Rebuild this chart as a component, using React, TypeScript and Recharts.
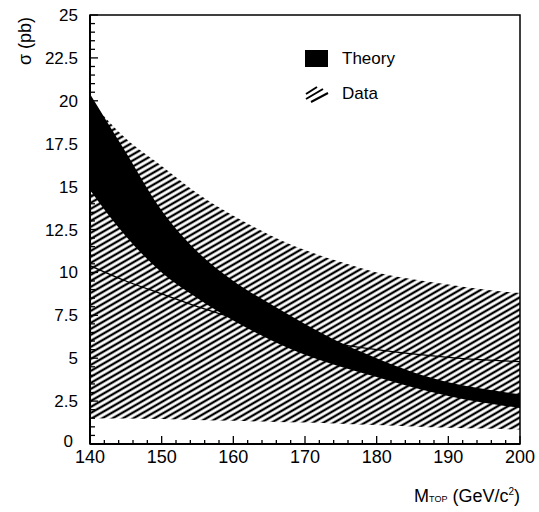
import {
  ComposedChart,
  Area,
  Line,
  XAxis,
  YAxis,
  ReferenceArea,
  Legend,
  Label,
} from "recharts";

// top mass (GeV/c^2)
const mass = [140, 145, 150, 155, 160, 165, 170, 175, 180, 185, 190, 195, 200];

// theory band (black)
const theoryLow = [14.8, 12.1, 10.0, 8.5, 7.2, 6.1, 5.2, 4.5, 3.9, 3.3, 2.8, 2.4, 2.1];
const theoryHigh = [20.4, 17.0, 13.6, 11.2, 9.5, 8.2, 7.0, 5.9, 5.0, 4.2, 3.6, 3.2, 2.9];

// data band (hatched)
const dataLow = [1.5, 1.48, 1.45, 1.4, 1.35, 1.3, 1.25, 1.18, 1.1, 1.02, 0.95, 0.9, 0.85];
const dataHigh = [20.0, 17.8, 16.2, 14.6, 13.3, 12.2, 11.3, 10.6, 10.0, 9.6, 9.3, 9.0, 8.8];

// thin curve
const fit = [10.4, 9.5, 8.75, 8.0, 7.35, 6.8, 6.3, 5.8, 5.5, 5.25, 5.05, 4.9, 4.8];

const xMajor = [140, 150, 160, 170, 180, 190, 200];
const yMajor = [0, 2.5, 5, 7.5, 10, 12.5, 15, 17.5, 20, 22.5, 25];

const legendItems = [
  { name: "Theory", kind: "solid" },
  { name: "Data", kind: "hatch" },
];

const rows = mass.map((m, i) => ({
  mass: m,
  theory: [theoryLow[i], theoryHigh[i]],
  data: [dataLow[i], dataHigh[i]],
  fit: fit[i],
}));

const xTicks: number[] = [];
for (let v = 140; v <= 200; v += 2) xTicks.push(v);
const yTicks: number[] = [];
for (let v = 0; v <= 25; v += 0.5) yTicks.push(v);

const FONT = "'Liberation Sans', Arial, sans-serif";

function XTick(props: any) {
  const { x, y, payload } = props;
  const major = xMajor.includes(payload.value);
  return (
    <g>
      <line x1={x} x2={x} y1={y} y2={y - (major ? 8 : 4)} stroke="#000" strokeWidth={1.3} />
      {major && (
        <text x={x} y={y + 19} textAnchor="middle" fontSize={18} fontFamily={FONT} fill="#000">
          {payload.value}
        </text>
      )}
    </g>
  );
}

function YTick(props: any) {
  const { x, y, payload } = props;
  const major = yMajor.includes(payload.value);
  // the 0 label sits just left of the 140 label, as in the original
  const isZero = payload.value === 0;
  return (
    <g>
      <line x1={x} x2={x + (major ? 8 : 5)} y1={y} y2={y} stroke="#000" strokeWidth={1.3} />
      {major && (
        <text
          x={isZero ? x - 17 : x - 12}
          y={isZero ? y + 3 : y + 6}
          textAnchor="end"
          fontSize={17}
          fontFamily={FONT}
          fill="#000"
        >
          {payload.value}
        </text>
      )}
    </g>
  );
}

function LegendBox() {
  return (
    <div style={{ fontFamily: FONT, fontSize: 17 }}>
      {legendItems.map((it) => (
        <div key={it.name} style={{ display: "flex", alignItems: "center", height: 35 }}>
          <svg width={24} height={18} style={{ marginRight: 13 }}>
            {it.kind === "solid" ? (
              <rect x={0} y={0} width={23} height={17} fill="#000" />
            ) : (
              <g stroke="#000" strokeWidth={2}>
                <line x1={1} y1={9} x2={12} y2={2} />
                <line x1={1} y1={14} x2={18} y2={4} />
                <line x1={6} y1={17} x2={23} y2={8} />
              </g>
            )}
          </svg>
          <span>{it.name}</span>
        </div>
      ))}
    </div>
  );
}

export default function App() {
  return (
    <div style={{ position: "absolute", left: 0, top: 0, background: "#fff" }}>
      <ComposedChart
        width={539}
        height={512}
        data={rows}
        margin={{ top: 15, right: 19, bottom: 0, left: 0 }}
      >
        <defs>
          <pattern
            id="hatch"
            patternUnits="userSpaceOnUse"
            width={8}
            height={5.2}
            patternTransform="rotate(-30)"
          >
            <line x1={0} y1={2.6} x2={8} y2={2.6} stroke="#000" strokeWidth={2.3} />
          </pattern>
        </defs>
        <XAxis
          dataKey="mass"
          type="number"
          domain={[140, 200]}
          ticks={xTicks}
          interval={0}
          height={68}
          tickSize={0}
          tickMargin={0}
          tickLine={false}
          tick={<XTick />}
          axisLine={{ stroke: "#000", strokeWidth: 2 }}
        >
          <Label
            content={() => (
              <text x={520} y={502} textAnchor="end" fontSize={18} fontFamily={FONT} fill="#000">
                M
                <tspan fontSize={9}>TOP</tspan>
                <tspan> (GeV/c</tspan>
                <tspan fontSize={10} dy={-7}>2</tspan>
                <tspan dy={7}>)</tspan>
              </text>
            )}
          />
        </XAxis>
        <YAxis
          type="number"
          domain={[0, 25]}
          ticks={yTicks}
          interval={0}
          width={90}
          tickSize={0}
          tickMargin={0}
          tickLine={false}
          tick={<YTick />}
          axisLine={{ stroke: "#000", strokeWidth: 2 }}
        >
          <Label
            content={() => (
              <text
                x={31}
                y={41}
                transform="rotate(-90 31 41)"
                textAnchor="middle"
                fontSize={18}
                fontFamily={FONT}
                fill="#000"
              >
                σ (pb)
              </text>
            )}
          />
        </YAxis>
        <Area
          type="monotone"
          dataKey="data"
          name="Data"
          stroke="none"
          fill="url(#hatch)"
          fillOpacity={1}
          isAnimationActive={false}
        />
        <Area
          type="monotone"
          dataKey="theory"
          name="Theory"
          stroke="none"
          fill="#000"
          fillOpacity={1}
          isAnimationActive={false}
        />
        <Line
          type="monotone"
          dataKey="fit"
          stroke="#000"
          strokeWidth={1.3}
          dot={false}
          activeDot={false}
          isAnimationActive={false}
        />
        <ReferenceArea
          x1={140}
          x2={200}
          y1={0}
          y2={25}
          fill="none"
          stroke="#000"
          strokeWidth={1.5}
        />
        <Legend
          layout="vertical"
          align="center"
          verticalAlign="middle"
          content={() => <LegendBox />}
          wrapperStyle={{ left: 305, top: 41, width: 120 }}
        />
      </ComposedChart>
    </div>
  );
}
